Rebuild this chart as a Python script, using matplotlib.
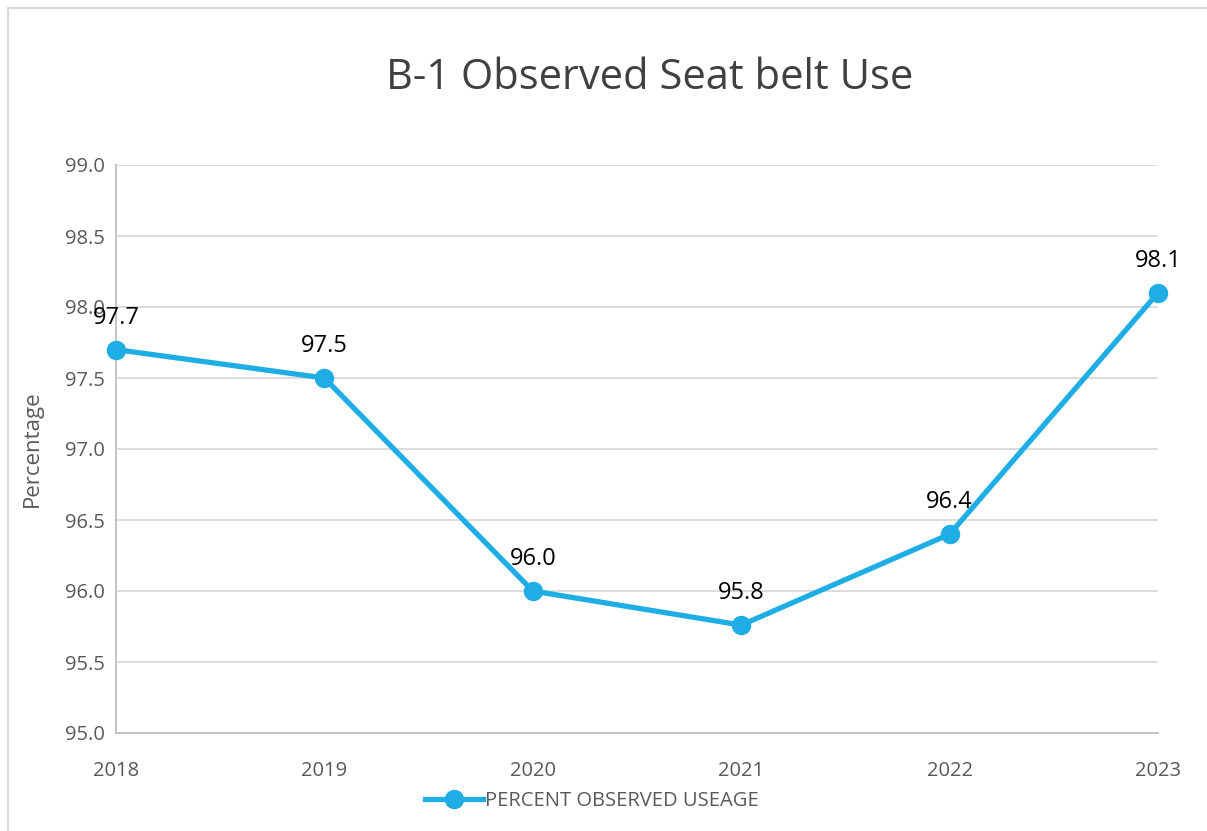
import matplotlib
matplotlib.use("Agg")
import matplotlib.pyplot as plt
import matplotlib.patches as mpatches

plt.rcParams["font.family"] = ["Open Sans", "DejaVu Sans"]

# data
years = ["2018", "2019", "2020", "2021", "2022", "2023"]
usage = [97.7, 97.5, 96.0, 95.76, 96.4, 98.1]
labels = ["97.7", "97.5", "96.0", "95.8", "96.4", "98.1"]
yticks = [95.0, 95.5, 96.0, 96.5, 97.0, 97.5, 98.0, 98.5, 99.0]

BLUE = "#1eade4"
GRAY = "#595959"

fig = plt.figure(figsize=(12.07, 8.31), dpi=100, facecolor="white")

# chart border (runs off the right/bottom edge like the screenshot)
fig.patches.append(mpatches.Rectangle((8 / 1207, -0.1), 1.2, 1 - 8 / 831 + 0.1,
                                      transform=fig.transFigure, fill=False,
                                      edgecolor="#d9d9d9", lw=1.5))

ax = fig.add_axes([116 / 1207, 1 - 733 / 831, (1158 - 116) / 1207, (733 - 165) / 831])
x = list(range(len(years)))
ax.plot(x, usage, color=BLUE, lw=3.8, marker="o", ms=13, label="PERCENT OBSERVED USEAGE",
        clip_on=False, zorder=3)

for xi, yi, lab in zip(x, usage, labels):
    ax.annotate(lab, (xi, yi), xytext=(0, 23), textcoords="offset points",
                ha="center", va="center", fontsize=17, color="black")

ax.set_xlim(0, len(years) - 1)
ax.set_ylim(95.0, 99.0)
ax.set_yticks(yticks)
ax.set_yticklabels([f"{v:.1f}" for v in yticks])
ax.set_xticks(x)
ax.set_xticklabels(years)
ax.tick_params(length=0, labelsize=14.5, colors=GRAY, pad=8)
ax.tick_params(axis="x", pad=20)
ax.grid(axis="y", color="#d9d9d9", lw=1.3)
ax.set_axisbelow(True)
for s in ["top", "right"]:
    ax.spines[s].set_visible(False)
for s in ["left", "bottom"]:
    ax.spines[s].set_color("#bfbfbf")
    ax.spines[s].set_linewidth(1.3)

ax.set_ylabel("Percentage", fontsize=16, color=GRAY)
ax.yaxis.set_label_coords(-0.07, 0.5)

fig.text(650 / 1207, 1 - 78 / 831, "B-1 Observed Seat belt Use", fontsize=30,
         color="#404040", ha="center", va="center")

fig.legend(loc="center", bbox_to_anchor=(592 / 1207, 1 - 801 / 831), frameon=False,
           fontsize=14.5, labelcolor=GRAY, handlelength=2.9, handletextpad=0.1)

fig.savefig("out.png", dpi=100, facecolor="white")
